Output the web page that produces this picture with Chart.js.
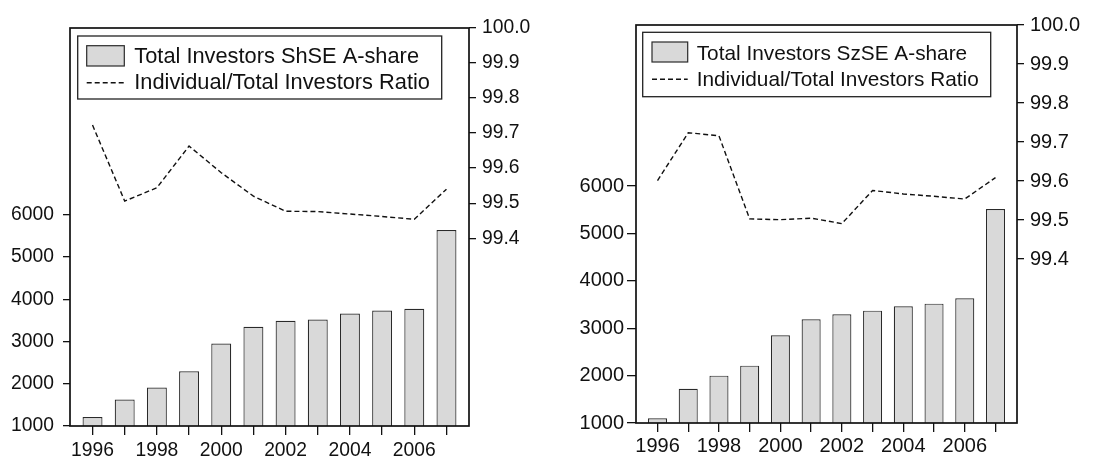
<!DOCTYPE html>
<html>
<head>
<meta charset="utf-8">
<script src="https://cdn.jsdelivr.net/npm/chart.js@4.4.1/dist/chart.umd.min.js"></script>
<style>
  html, body { margin: 0; padding: 0; background: #fff; }
  body { width: 1105px; height: 458px; position: relative; overflow: hidden; }
  canvas { position: absolute; top: 0; }
  #shse { left: 0; }
  #szse { left: 560px; }
</style>
</head>
<body>
<canvas id="shse" width="540" height="458"></canvas>
<canvas id="szse" width="545" height="458"></canvas>
<script>
// Years covered by both panels
const years = [1996, 1997, 1998, 1999, 2000, 2001, 2002, 2003, 2004, 2005, 2006, 2007];

// Shanghai Stock Exchange: total A-share investors and individual/total ratio (%)
const shseInvestors = [1213, 1624, 1908, 2295, 2951, 3346, 3488, 3520, 3662, 3733, 3773, 5637];
const shseRatio = [99.723, 99.506, 99.544, 99.663, 99.587, 99.520, 99.477, 99.476, 99.469, 99.462, 99.454, 99.540];

// Shenzhen Stock Exchange: total A-share investors and individual/total ratio (%)
const szseInvestors = [1098, 1724, 1999, 2210, 2850, 3187, 3293, 3370, 3461, 3518, 3630, 5515];
const szseRatio = [99.601, 99.724, 99.716, 99.503, 99.501, 99.505, 99.491, 99.576, 99.567, 99.561, 99.554, 99.609];

// Tick labels
const investorTicks = [1000, 2000, 3000, 4000, 5000, 6000];
const ratioTicks = [99.4, 99.5, 99.6, 99.7, 99.8, 99.9, 100.0];
const labelledYears = [1996, 1998, 2000, 2002, 2004, 2006];

// Legend texts
const shseLabels = ['Total Investors ShSE A-share', 'Individual/Total Investors Ratio'];
const szseLabels = ['Total Investors SzSE A-share', 'Individual/Total Investors Ratio'];

const FONT = "'Liberation Sans', Arial, Helvetica, sans-serif";
const INK = '#111';
const BAR_FILL = '#d9d9d9';
const BAR_EDGE = '#2a2a2a';
const DASH = [5, 3];

// Frame around the plot area plus a boxed legend in its upper-left corner
const framePlugin = {
  id: 'frameAndLegend',
  afterDraw(chart) {
    const ctx = chart.ctx;
    const a = chart.chartArea;
    const o = chart.options.plugins.frameAndLegend;
    ctx.save();
    ctx.strokeStyle = INK;
    ctx.lineWidth = 1.7;
    ctx.strokeRect(a.left, a.top, a.right - a.left, a.bottom - a.top);

    const bx = a.left + o.dx, by = a.top + o.dy;
    ctx.fillStyle = '#fff';
    ctx.fillRect(bx, by, o.w, o.h);
    ctx.lineWidth = 1.3;
    ctx.strokeStyle = '#222';
    ctx.strokeRect(bx, by, o.w, o.h);

    // bar swatch
    ctx.fillStyle = BAR_FILL;
    ctx.fillRect(bx + o.swX, by + o.swY, o.swW, o.swH);
    ctx.lineWidth = 1.2;
    ctx.strokeStyle = BAR_EDGE;
    ctx.strokeRect(bx + o.swX, by + o.swY, o.swW, o.swH);

    // dashed line sample
    ctx.beginPath();
    ctx.setLineDash(DASH);
    ctx.lineWidth = 1.4;
    ctx.strokeStyle = INK;
    ctx.moveTo(bx + o.swX, by + o.lineY);
    ctx.lineTo(bx + o.swX + o.swW, by + o.lineY);
    ctx.stroke();
    ctx.setLineDash([]);

    ctx.fillStyle = INK;
    ctx.font = o.fontSize + 'px ' + FONT;
    ctx.textBaseline = 'alphabetic';
    ctx.textAlign = 'left';
    const ds = chart.data.datasets;
    ctx.fillText(ds[0].label, bx + o.textX, by + o.row1);
    ctx.fillText(ds[1].label, bx + o.textX, by + o.row2);
    ctx.restore();
  }
};

function makeChart(id, investors, ratio, labels, g) {
  const tickFont = { family: FONT, size: g.tickSize };
  const tickGrid = { display: true, drawOnChartArea: false, drawTicks: true, color: INK, lineWidth: 1.3 };
  return new Chart(document.getElementById(id), {
    type: 'bar',
    data: {
      datasets: [
        {
          type: 'bar',
          label: labels[0],
          data: years.map((y, i) => ({ x: y, y: investors[i] })),
          backgroundColor: BAR_FILL,
          borderColor: BAR_EDGE,
          borderWidth: 1.2,
          barPercentage: 0.62,
          categoryPercentage: 1.0,
          yAxisID: 'y',
          order: 2
        },
        {
          type: 'line',
          label: labels[1],
          data: years.map((y, i) => ({ x: y, y: ratio[i] })),
          borderColor: INK,
          borderWidth: 1.4,
          borderDash: DASH,
          pointRadius: 0,
          tension: 0,
          fill: false,
          yAxisID: 'y1',
          order: 1
        }
      ]
    },
    options: {
      responsive: false,
      animation: false,
      layout: { padding: { top: g.top, left: 0, right: 0, bottom: 0 }, autoPadding: false },
      plugins: {
        legend: { display: false },
        tooltip: { enabled: false },
        frameAndLegend: g.legend
      },
      scales: {
        x: {
          type: 'linear',
          min: years[0] - 0.7,
          max: years[years.length - 1] + 0.7,
          offset: false,
          border: { display: false },
          grid: Object.assign({}, tickGrid, { offset: false, tickLength: 9 }),
          afterBuildTicks: s => { s.ticks = years.map(v => ({ value: v })); },
          afterFit: s => { s.height = g.xHeight; },
          ticks: {
            autoSkip: false,
            maxRotation: 0,
            minRotation: 0,
            padding: g.xPad,
            color: INK,
            font: tickFont,
            callback: v => labelledYears.includes(v) ? String(v) : ''
          }
        },
        y: {
          type: 'linear',
          position: 'left',
          min: 1000,
          max: g.investorMax,
          border: { display: false },
          grid: Object.assign({}, tickGrid, { tickLength: g.yTick }),
          afterBuildTicks: s => { s.ticks = investorTicks.map(v => ({ value: v })); },
          afterFit: s => { s.width = g.leftWidth; },
          ticks: { padding: g.yPad, color: INK, font: tickFont, callback: v => String(v) }
        },
        y1: {
          type: 'linear',
          position: 'right',
          min: g.ratioMin,
          max: 100.0,
          border: { display: false },
          grid: Object.assign({}, tickGrid, { tickLength: 7 }),
          afterBuildTicks: s => { s.ticks = ratioTicks.map(v => ({ value: v })); },
          afterFit: s => { s.width = g.rightWidth; },
          ticks: { padding: 6, color: INK, font: tickFont, callback: v => Number(v).toFixed(1) }
        }
      }
    },
    plugins: [framePlugin]
  });
}

makeChart('shse', shseInvestors, shseRatio, shseLabels, {
  top: 28, xHeight: 32, leftWidth: 70, rightWidth: 71, xPad: 4, yTick: 7, yPad: 9,
  investorMax: 10416, ratioMin: 98.864, tickSize: 19.3,
  legend: { dx: 7.7, dy: 8, w: 364, h: 63, swX: 9, swY: 9.7, swW: 37.6, swH: 20.3,
            lineY: 46.7, textX: 56.6, row1: 27.3, row2: 53.3, fontSize: 21.8 }
});

makeChart('szse', szseInvestors, szseRatio, szseLabels, {
  top: 25, xHeight: 35, leftWidth: 76, rightWidth: 88, xPad: 2, yTick: 9, yPad: 3,
  investorMax: 9397, ratioMin: 98.98, tickSize: 20,
  legend: { dx: 6.7, dy: 7.3, w: 348, h: 64.4, swX: 9.3, swY: 9.7, swW: 35.7, swH: 20,
            lineY: 47, textX: 54, row1: 27.7, row2: 53.7, fontSize: 20.8 }
});
</script>
</body>
</html>
